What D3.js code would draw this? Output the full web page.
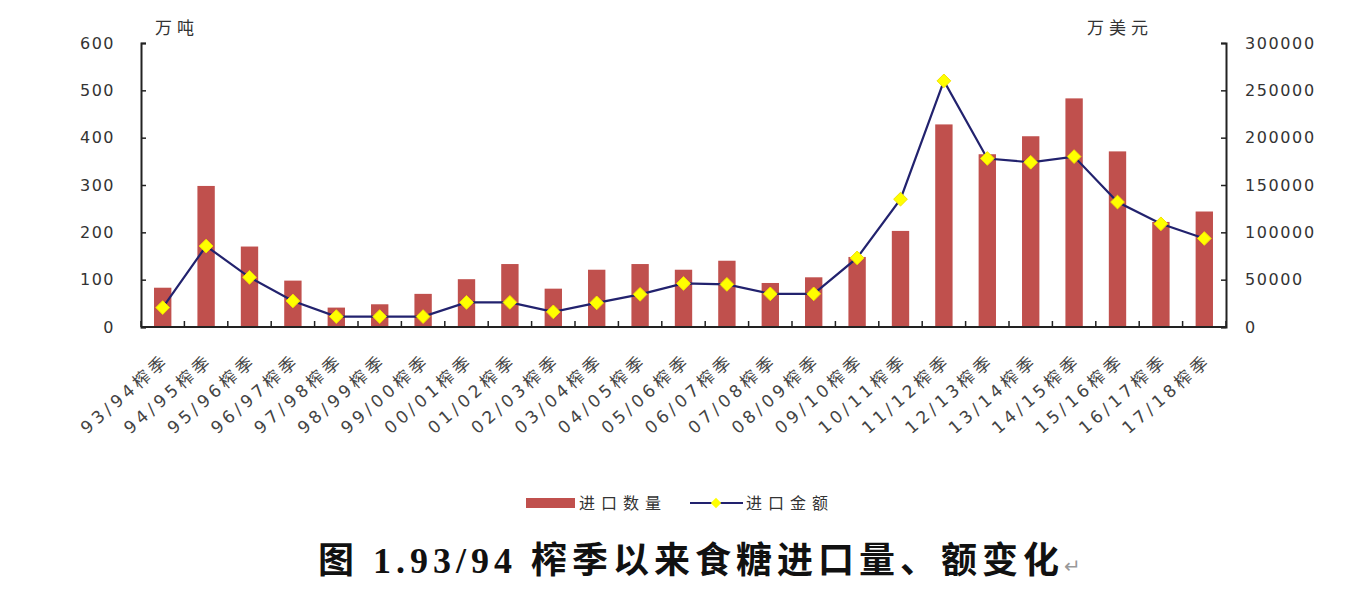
<!DOCTYPE html>
<html>
<head>
<meta charset="utf-8">
<script src="https://cdn.jsdelivr.net/npm/d3@7/dist/d3.min.js"></script>
<style>
  html, body { margin: 0; padding: 0; background: #fff; }
  svg { display: block; }
</style>
</head>
<body>
<svg id="chart" width="1368" height="599"></svg>
<script>
// ---- data ----
const categories = ["93/94榨季","94/95榨季","95/96榨季","96/97榨季","97/98榨季","98/99榨季","99/00榨季","00/01榨季","01/02榨季","02/03榨季","03/04榨季","04/05榨季","05/06榨季","06/07榨季","07/08榨季","08/09榨季","09/10榨季","10/11榨季","11/12榨季","12/13榨季","13/14榨季","14/15榨季","15/16榨季","16/17榨季","17/18榨季"];
const importQty = [83, 298, 170, 98, 41, 48, 70, 101, 133, 81, 121, 133, 121, 140, 93, 105, 148, 203, 428, 365, 403, 483, 371, 222, 244];
const importValue = [20500, 85500, 52500, 27500, 11000, 11000, 11000, 26000, 26000, 16000, 25500, 34500, 46000, 45000, 35000, 35000, 73000, 135000, 260000, 178000, 174000, 180000, 132000, 109000, 93500];
const leftTicks = [0, 100, 200, 300, 400, 500, 600];
const rightTicks = [0, 50000, 100000, 150000, 200000, 250000, 300000];
const seriesNames = ["进口数量", "进口金额"];
const leftUnit = "万吨";
const rightUnit = "万美元";
const titleText = "图 1.93/94 榨季以来食糖进口量、额变化";

// ---- layout ----
const svg = d3.select("#chart");
const X0 = 141, X1 = 1226, Y0 = 327, Y1 = 43;
const barColor = "#C0504D";
const lineColor = "#22226E";
const axisColor = "#222";
const textColor = "#333";
const sansFont = "'DejaVu Sans', 'Noto Sans CJK SC', sans-serif";

const x = d3.scaleBand().domain(categories).range([X0, X1]).paddingInner(0.6).paddingOuter(0.3);
const xb = d3.scaleBand().domain(categories).range([X0, X1]);
const yL = d3.scaleLinear().domain([0, 600]).range([Y0, Y1]);
const yR = d3.scaleLinear().domain([0, 300000]).range([Y0, Y1]);

// bars
svg.append("g").selectAll("rect").data(categories).join("rect")
  .attr("x", d => x(d))
  .attr("width", x.bandwidth())
  .attr("y", (d, i) => yL(importQty[i]))
  .attr("height", (d, i) => Y0 - yL(importQty[i]))
  .attr("fill", barColor);

// left axis
const gL = svg.append("g").attr("transform", `translate(${X0},0)`)
  .call(d3.axisLeft(yL).tickValues(leftTicks).tickSize(-5).tickPadding(26).tickFormat(d3.format("d")));
gL.select(".domain").attr("stroke", axisColor).attr("stroke-width", 2);
gL.selectAll(".tick line").attr("stroke", axisColor).attr("stroke-width", 1.5);
gL.selectAll("text").attr("font-family", sansFont).attr("font-size", 16).attr("fill", textColor)
  .attr("letter-spacing", 1.5);

// right axis
const gR = svg.append("g").attr("transform", `translate(${X1},0)`)
  .call(d3.axisRight(yR).tickValues(rightTicks).tickSize(-5).tickPadding(19).tickFormat(d3.format("d")));
gR.select(".domain").attr("stroke", axisColor).attr("stroke-width", 2);
gR.selectAll(".tick line").attr("stroke", axisColor).attr("stroke-width", 1.5);
gR.selectAll("text").attr("font-family", sansFont).attr("font-size", 16).attr("fill", textColor)
  .attr("letter-spacing", 1.6);

// x axis line + ticks at band boundaries
const bounds = categories.map(c => xb(c)).concat([X1]);
svg.append("line").attr("x1", X0).attr("x2", X1).attr("y1", Y0).attr("y2", Y0)
  .attr("stroke", axisColor).attr("stroke-width", 2);
svg.append("g").selectAll("line").data(bounds).join("line")
  .attr("x1", d => d).attr("x2", d => d).attr("y1", Y0).attr("y2", Y0 - 6)
  .attr("stroke", axisColor).attr("stroke-width", 1.5);

// x labels
svg.append("g").selectAll("text").data(categories).join("text")
  .attr("transform", d => `translate(${xb(d) + xb.bandwidth() / 2 + 8},${Y0 + 35}) rotate(-41)`)
  .attr("text-anchor", "end")
  .attr("font-family", sansFont)
  .attr("font-size", 17)
  .attr("letter-spacing", 4)
  .attr("fill", "#444")
  .text(d => d);

// line series
const cx = d => xb(d) + xb.bandwidth() / 2;
const line = d3.line().x(d => cx(d)).y((d, i) => yR(importValue[i]));
svg.append("path").datum(categories).attr("d", line)
  .attr("fill", "none").attr("stroke", lineColor).attr("stroke-width", 2.2);
const diamond = d3.symbol().type(d3.symbolDiamond2).size(120);
svg.append("g").selectAll("path").data(categories).join("path")
  .attr("d", diamond)
  .attr("transform", (d, i) => `translate(${cx(d)},${yR(importValue[i])})`)
  .attr("fill", "#FFFF00").attr("stroke", "#F2E200").attr("stroke-width", 1);

// unit labels
svg.append("text").attr("x", 155).attr("y", 34).attr("font-family", sansFont)
  .attr("font-size", 17).attr("letter-spacing", 5).attr("fill", textColor).text(leftUnit);
svg.append("text").attr("x", 1087).attr("y", 34).attr("font-family", sansFont)
  .attr("font-size", 17).attr("letter-spacing", 5).attr("fill", textColor).text(rightUnit);

// legend
const lg = svg.append("g");
lg.append("rect").attr("x", 526).attr("y", 498).attr("width", 49).attr("height", 10).attr("fill", barColor);
lg.append("text").attr("x", 579).attr("y", 509).attr("font-family", sansFont).attr("font-size", 16)
  .attr("letter-spacing", 6).attr("fill", textColor).text(seriesNames[0]);
lg.append("line").attr("x1", 690).attr("x2", 743).attr("y1", 503).attr("y2", 503)
  .attr("stroke", lineColor).attr("stroke-width", 2);
lg.append("path").attr("d", d3.symbol().type(d3.symbolDiamond2).size(70)())
  .attr("transform", "translate(716,503)").attr("fill", "#FFFF00");
lg.append("text").attr("x", 746).attr("y", 509).attr("font-family", sansFont).attr("font-size", 16)
  .attr("letter-spacing", 6).attr("fill", textColor).text(seriesNames[1]);

// title
const t = svg.append("text").attr("x", 318).attr("y", 573)
  .attr("font-family", "'Liberation Serif', 'Noto Sans CJK SC', serif")
  .attr("font-weight", "bold").attr("font-size", 36).attr("letter-spacing", 5).attr("fill", "#111");
t.append("tspan").text(titleText);
t.append("tspan").attr("font-size", 20).attr("font-weight", "normal").attr("fill", "#999")
  .attr("letter-spacing", 0).text("↵");
</script>
</body>
</html>
